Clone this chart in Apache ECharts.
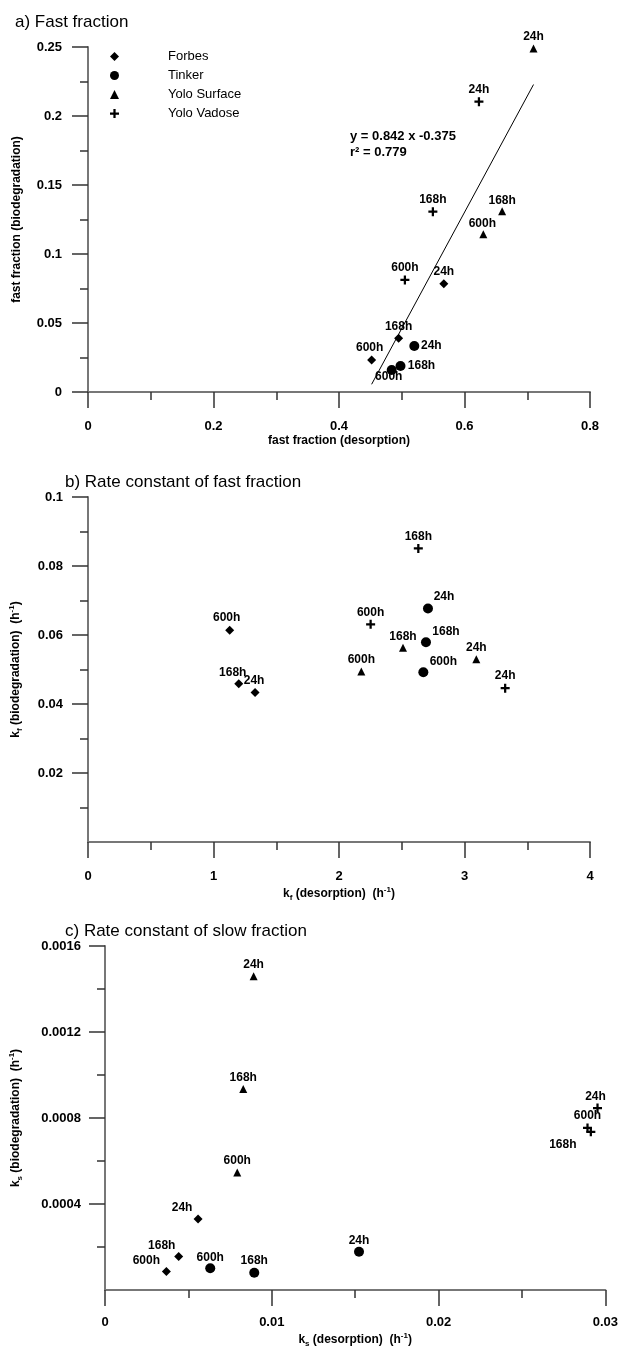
<!DOCTYPE html>
<html>
<head>
  <meta charset="utf-8">
  <title>Fast fraction / rate constants</title>
  <script src="https://cdn.jsdelivr.net/npm/echarts@6/dist/echarts.min.js"></script>
  <style>
    html, body { margin: 0; padding: 0; background: #fff; }
    #chart { width: 621px; height: 1349px; }
  </style>
</head>
<body>
<div id="chart"></div>
<script type="text/javascript">
  // sampling times, same order in every series
  let times = ['24h', '168h', '600h'];

  // a) fast fraction: [desorption, biodegradation]
  let forbesA = [[0.567, 0.0785], [0.495, 0.0389], [0.452, 0.0232]];
  let tinkerA = [[0.520, 0.0333], [0.498, 0.0188], [0.484, 0.0159]];
  let yoloSurfA = [[0.710, 0.249], [0.660, 0.131], [0.630, 0.1143]];
  let yoloVadA = [[0.623, 0.2104], [0.5496, 0.1307], [0.505, 0.0812]];
  let fitA = [[0.452, 0.0056], [0.710, 0.2228]];

  // b) kf: [desorption, biodegradation]
  let forbesB = [[1.331, 0.0433], [1.201, 0.0459], [1.129, 0.0614]];
  let tinkerB = [[2.709, 0.0677], [2.693, 0.0579], [2.672, 0.0492]];
  let yoloSurfB = [[3.094, 0.0530], [2.510, 0.0563], [2.178, 0.0494]];
  let yoloVadB = [[3.324, 0.0446], [2.632, 0.0851], [2.252, 0.0631]];

  // c) ks: [desorption, biodegradation]
  let forbesC = [[0.00558, 0.00033], [0.00442, 0.000156], [0.00368, 0.000086]];
  let tinkerC = [[0.01523, 0.000178], [0.00895, 0.00008], [0.00631, 0.000101]];
  let yoloSurfC = [[0.00891, 0.001459], [0.00829, 0.000935], [0.00793, 0.000547]];
  let yoloVadC = [[0.02953, 0.000846], [0.02913, 0.000736], [0.02893, 0.000754]];

  // tick labels shown on the y axes of b and c (no 0)
  let yTicksB = [0.02, 0.04, 0.06, 0.08, 0.1];
  let yTicksC = [0.0004, 0.0008, 0.0012, 0.0016];

  // label offsets (px from the symbol centre), same order as times
  let offA = {
    forbes: [[0, -12], [0, -12], [-2, -12]],
    tinker: [[17, 0], [21, 0], [-3, 7]],
    surf: [[0, -12], [0, -11], [-1, -11]],
    vad: [[0, -12], [0, -12], [0, -12]]
  };
  let offB = {
    forbes: [[-1, -12], [-6, -11], [-3, -12]],
    tinker: [[16, -12], [20, -11], [20, -11]],
    surf: [[0, -11], [0, -11], [0, -12]],
    vad: [[0, -12], [0, -12], [0, -12]]
  };
  let offC = {
    forbes: [[-16, -11], [-17, -11], [-20, -11]],
    tinker: [[0, -11], [0, -12], [0, -11]],
    surf: [[0, -12], [0, -11], [0, -12]],
    vad: [[-2, -11], [-28, 13], [0, -12]]
  };

  let FONT = 'Liberation Sans';
  let plusPath = 'path://M3,0H5V3H8V5H5V8H3V5H0V3H3Z';

  let myChart = echarts.init(document.getElementById('chart'));

  function pts(values, offs) {
    return values.map((v, i) => ({ value: v, name: times[i], label: { offset: offs[i] } }));
  }

  function scatter(name, symbol, size, values, offs, idx) {
    return {
      name: name,
      type: 'scatter',
      xAxisIndex: idx,
      yAxisIndex: idx,
      symbol: symbol,
      symbolSize: size,
      itemStyle: { color: '#000', opacity: 1 },
      label: {
        show: true,
        position: 'inside',
        formatter: '{b}',
        color: '#000',
        fontSize: 12,
        fontWeight: 'bold',
        fontFamily: FONT
      },
      data: pts(values, offs)
    };
  }

  let tickLabel = { color: '#000', fontSize: 13, fontWeight: 'bold', fontFamily: FONT };
  let nameStyle = { color: '#000', fontSize: 12, fontWeight: 'bold', fontFamily: FONT };
  let rich = {
    n: { fontSize: 12, fontWeight: 'bold', fontFamily: FONT, color: '#000', lineHeight: 16 },
    sub: { fontSize: 8, fontWeight: 'bold', fontFamily: FONT, color: '#000', lineHeight: 8, verticalAlign: 'bottom' },
    sup: { fontSize: 8, fontWeight: 'bold', fontFamily: FONT, color: '#000', lineHeight: 8, verticalAlign: 'top' }
  };
  let axisLine = { show: true, onZero: false, lineStyle: { color: '#777', width: 2 } };
  let axisTick = { show: true, length: 16, lineStyle: { color: '#333', width: 1.5 } };
  let minorTick = { show: true, splitNumber: 2, length: 8, lineStyle: { color: '#333', width: 1.5 } };

  function axis(extra) {
    return Object.assign({
      type: 'value',
      splitLine: { show: false },
      axisLine: axisLine,
      axisTick: axisTick,
      minorTick: minorTick,
      nameLocation: 'middle'
    }, extra);
  }

  let titleStyle = { fontSize: 17, fontWeight: 'normal', color: '#000', fontFamily: FONT };

  myChart.setOption({
    animation: false,
    backgroundColor: '#fff',
    textStyle: { fontFamily: FONT },
    title: [
      { text: 'a) Fast fraction', left: 10, top: 9, textStyle: titleStyle },
      { text: 'b) Rate constant of fast fraction', left: 60, top: 469, textStyle: titleStyle },
      { text: 'c) Rate constant of slow fraction', left: 60, top: 918, textStyle: titleStyle }
    ],
    legend: {
      orient: 'vertical',
      left: 105,
      top: 44,
      itemWidth: 9,
      itemHeight: 9,
      itemGap: 4,
      itemStyle: { color: '#000', opacity: 1 },
      textStyle: { color: '#000', fontSize: 13, fontFamily: FONT, lineHeight: 15, padding: [0, 0, 0, 44] },
      data: ['Forbes', 'Tinker', 'Yolo Surface', 'Yolo Vadose']
    },
    grid: [
      { left: 88, width: 502, top: 47, height: 345 },
      { left: 88, width: 502, top: 497, height: 345 },
      { left: 104, width: 502, top: 946, height: 347 }
    ],
    xAxis: [
      axis({ gridIndex: 0, min: 0, max: 0.8, interval: 0.2, axisLabel: Object.assign({ margin: 28 }, tickLabel),
        name: 'fast fraction (desorption)', nameGap: 43, nameTextStyle: nameStyle }),
      axis({ gridIndex: 1, min: 0, max: 4, interval: 1, axisLabel: Object.assign({ margin: 28 }, tickLabel),
        name: '{n|k}{sub|f}{n| (desorption)  (h}{sup|-1}{n|)}', nameGap: 44, nameTextStyle: { rich: rich } }),
      axis({ gridIndex: 2, min: 0, max: 0.03, interval: 0.01, axisLabel: Object.assign({ margin: 26 }, tickLabel),
        name: '{n|k}{sub|s}{n| (desorption)  (h}{sup|-1}{n|)}', nameGap: 42, nameTextStyle: { rich: rich } })
    ],
    yAxis: [
      axis({ gridIndex: 0, min: 0, max: 0.25, interval: 0.05, axisLabel: Object.assign({ margin: 26 }, tickLabel),
        name: 'fast fraction (biodegradation)', nameGap: 65, nameTextStyle: nameStyle }),
      axis({ gridIndex: 1, min: 0, max: 0.1, interval: 0.02,
        axisLabel: Object.assign({ margin: 25, customValues: yTicksB }, tickLabel),
        axisTick: Object.assign({ customValues: yTicksB }, axisTick),
        name: '{n|k}{sub|f}{n| (biodegradation)  (h}{sup|-1}{n|)}', nameGap: 64, nameTextStyle: { rich: rich } }),
      axis({ gridIndex: 2, min: 0, max: 0.0016, interval: 0.0004,
        axisLabel: Object.assign({ margin: 24, customValues: yTicksC }, tickLabel),
        axisTick: Object.assign({ customValues: yTicksC }, axisTick),
        name: '{n|k}{sub|s}{n| (biodegradation)  (h}{sup|-1}{n|)}', nameGap: 81, nameTextStyle: { rich: rich } })
    ],
    graphic: [
      {
        type: 'text',
        left: 350,
        top: 128,
        style: {
          text: 'y = 0.842 x -0.375\nr\u00b2 = 0.779',
          font: 'bold 13px "Liberation Sans"',
          lineHeight: 16,
          fill: '#000'
        }
      }
    ],
    series: [
      {
        name: 'fit',
        type: 'line',
        xAxisIndex: 0,
        yAxisIndex: 0,
        data: fitA,
        showSymbol: false,
        lineStyle: { color: '#000', width: 1 },
        z: 1
      },
      scatter('Forbes', 'diamond', 9, forbesA, offA.forbes, 0),
      scatter('Tinker', 'circle', 10, tinkerA, offA.tinker, 0),
      scatter('Yolo Surface', 'triangle', 8, yoloSurfA, offA.surf, 0),
      scatter('Yolo Vadose', plusPath, 9, yoloVadA, offA.vad, 0),
      scatter('Forbes', 'diamond', 9, forbesB, offB.forbes, 1),
      scatter('Tinker', 'circle', 10, tinkerB, offB.tinker, 1),
      scatter('Yolo Surface', 'triangle', 8, yoloSurfB, offB.surf, 1),
      scatter('Yolo Vadose', plusPath, 9, yoloVadB, offB.vad, 1),
      scatter('Forbes', 'diamond', 9, forbesC, offC.forbes, 2),
      scatter('Tinker', 'circle', 10, tinkerC, offC.tinker, 2),
      scatter('Yolo Surface', 'triangle', 8, yoloSurfC, offC.surf, 2),
      scatter('Yolo Vadose', plusPath, 9, yoloVadC, offC.vad, 2)
    ]
  });
</script>
</body>
</html>
